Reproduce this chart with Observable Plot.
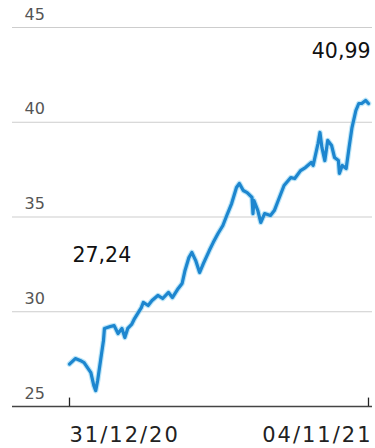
<!DOCTYPE html>
<html><head><meta charset="utf-8">
<script src="https://cdn.jsdelivr.net/npm/d3@7"></script>
<script src="https://cdn.jsdelivr.net/npm/@observablehq/plot@0.6"></script>
<style>body{margin:0;background:#fff}#chart{width:375px;height:448px}</style>
</head><body><div id="chart"></div>
<script>
const dates = ["2020-12-31","2021-01-06","2021-01-11","2021-01-15","2021-01-22","2021-01-25","2021-01-27","2021-01-29","2021-02-01","2021-02-04",
"2021-02-05","2021-02-11","2021-02-15","2021-02-19","2021-02-23","2021-02-26","2021-03-01","2021-03-05","2021-03-08","2021-03-15",
"2021-03-17","2021-03-22","2021-03-26","2021-04-01","2021-04-06","2021-04-12","2021-04-16","2021-04-22","2021-04-26","2021-04-29",
"2021-05-03","2021-05-06","2021-05-10","2021-05-14","2021-05-18","2021-05-24","2021-05-28","2021-06-02","2021-06-07","2021-06-11",
"2021-06-16","2021-06-21","2021-06-24","2021-06-28","2021-07-02","2021-07-07","2021-07-08","2021-07-09","2021-07-13","2021-07-16",
"2021-07-20","2021-07-26","2021-07-30","2021-08-03","2021-08-09","2021-08-16","2021-08-20","2021-08-26","2021-08-31","2021-09-06",
"2021-09-08","2021-09-13","2021-09-15","2021-09-17","2021-09-20","2021-09-23","2021-09-27","2021-09-30","2021-10-04","2021-10-05",
"2021-10-08","2021-10-12","2021-10-15","2021-10-18","2021-10-22","2021-10-25","2021-10-28","2021-11-01","2021-11-04"];
const prices = [27.24,27.53,27.43,27.32,26.79,26.11,25.84,26.37,27.43,28.48,
29.12,29.22,29.27,28.85,29.12,28.64,29.12,29.33,29.64,30.22,
30.49,30.33,30.59,30.86,30.70,31.02,30.75,31.23,31.49,32.18,
32.86,33.13,32.70,32.07,32.55,33.23,33.65,34.13,34.55,35.08,
35.71,36.56,36.77,36.40,36.29,36.03,35.18,35.87,35.34,34.71,
35.18,35.08,35.34,35.87,36.66,37.08,37.03,37.45,37.61,37.88,
37.72,38.88,39.46,38.67,37.98,39.04,38.77,38.14,37.98,37.30,
37.72,37.56,38.67,39.72,40.62,40.99,40.99,41.15,40.99];
const yTicks = [25, 30, 35, 40, 45];
const xTickDates = ["2020-12-31", "2021-11-04"];
const xTickLabels = ["31/12/20", "04/11/21"];
const firstValueLabel = "27,24";
const lastValueLabel = "40,99";

const data = dates.map((d, i) => ({date: d3.isoParse(d), price: prices[i]}));
const xTicks = xTickDates.map(d3.isoParse);
const font = "DejaVu Sans";

const svg = Plot.plot({
  width: 375, height: 448,
  marginLeft: 69, marginRight: 7, marginTop: 27, marginBottom: 42,
  x: {type: "utc", domain: [xTicks[0], xTicks[1]], axis: null},
  y: {domain: [25, 45], axis: null},
  marks: [
    Plot.ruleY(yTicks.filter(t => t > 25), {stroke: "#cdcdcd", strokeWidth: 1.2, insetLeft: -57, insetRight: -4}),
    Plot.ruleY([25], {stroke: "#444", strokeWidth: 1.6, insetLeft: -57, insetRight: -4}),
    Plot.ruleX(xTicks, {x: d => d, y1: 25, y2: 25.55, stroke: "#222", strokeWidth: 1.3, insetBottom: -2}),
    Plot.text(yTicks, {y: d => d, text: d => String(d), frameAnchor: "left", textAnchor: "start", dx: -45, dy: -13,
      fontFamily: font, fontSize: 16, fill: "#555"}),
    Plot.text([xTicks[0]], {x: d => d, text: [xTickLabels[0]], frameAnchor: "bottom", lineAnchor: "middle", textAnchor: "start", dy: 29,
      fontFamily: font, fontSize: 21, fill: "#222"}),
    Plot.text([xTicks[1]], {x: d => d, text: [xTickLabels[1]], frameAnchor: "bottom", lineAnchor: "middle", textAnchor: "end", dx: 4, dy: 29,
      fontFamily: font, fontSize: 21, fill: "#222"}),
    Plot.line(data, {x: "date", y: "price", stroke: "#8fd3f2", strokeWidth: 5.5, strokeOpacity: 0.6}),
    Plot.line(data, {x: "date", y: "price", stroke: "#1d86cf", strokeWidth: 3.2, strokeLinejoin: "round"}),
    Plot.text([firstValueLabel], {text: d => d, frameAnchor: "top-left", lineAnchor: "middle", textAnchor: "start", dx: 3, dy: 227.5,
      fontFamily: font, fontSize: 20.5, fill: "#111"}),
    Plot.text([lastValueLabel], {text: d => d, frameAnchor: "top-right", lineAnchor: "middle", textAnchor: "end", dx: 2, dy: 23.5,
      fontFamily: font, fontSize: 20.5, fill: "#111"})
  ]
});
svg.querySelectorAll("text").forEach(t => {
  if (/\d\d\/\d\d\/\d\d/.test(t.textContent)) t.setAttribute("letter-spacing", "2");
});
document.getElementById("chart").append(svg);
</script>
</body></html>
